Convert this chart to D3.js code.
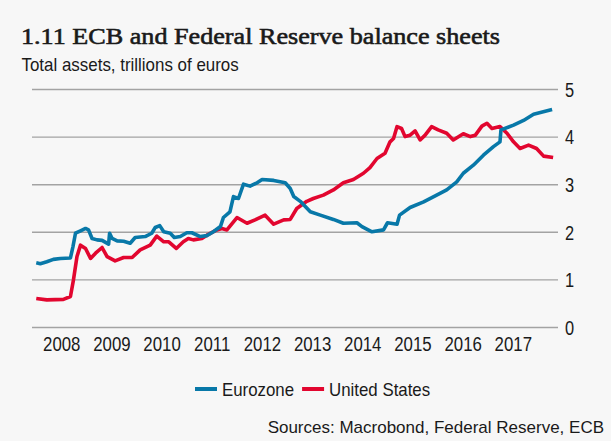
<!DOCTYPE html>
<html>
<head>
<meta charset="utf-8">
<script src="https://cdn.jsdelivr.net/npm/d3@7"></script>
<style>
  html, body { margin: 0; padding: 0; background: #f7f7f7; }
  svg { display: block; }
</style>
</head>
<body>
<div id="chart"></div>
<script>
// Chart data (decimal years, trillions of euros)
const euroYears = [2008.00, 2008.08, 2008.21, 2008.34, 2008.48, 2008.68, 2008.73, 2008.78, 2008.88, 2008.98,
  2009.04, 2009.11, 2009.21, 2009.31, 2009.44, 2009.46, 2009.51, 2009.61, 2009.74, 2009.87, 2009.97,
  2010.17, 2010.30, 2010.37, 2010.46, 2010.54, 2010.67, 2010.75, 2010.87, 2011.00, 2011.10, 2011.27,
  2011.40, 2011.53, 2011.67, 2011.73, 2011.86, 2011.93, 2012.03, 2012.13, 2012.26, 2012.40, 2012.50,
  2012.73, 2012.96, 2013.06, 2013.13, 2013.26, 2013.46, 2013.66, 2013.92, 2014.12, 2014.39, 2014.49,
  2014.69, 2014.92, 2015.00, 2015.19, 2015.24, 2015.45, 2015.72, 2015.98, 2016.18, 2016.38, 2016.51,
  2016.71, 2016.91, 2017.11, 2017.24, 2017.26, 2017.51, 2017.71, 2017.91, 2018.28];
const euroValues = [1.35, 1.33, 1.37, 1.42, 1.44, 1.45, 1.69, 1.97, 2.02, 2.07,
  2.04, 1.86, 1.83, 1.82, 1.74, 1.97, 1.86, 1.81, 1.80, 1.76, 1.88,
  1.90, 1.97, 2.09, 2.13, 2.00, 1.97, 1.88, 1.90, 1.98, 1.98, 1.90,
  1.92, 2.00, 2.11, 2.30, 2.42, 2.74, 2.70, 3.00, 2.96, 3.03, 3.10,
  3.08, 3.03, 2.91, 2.74, 2.64, 2.42, 2.35, 2.26, 2.18, 2.19, 2.11,
  2.00, 2.04, 2.19, 2.16, 2.35, 2.51, 2.63, 2.77, 2.88, 3.05, 3.23,
  3.40, 3.61, 3.79, 3.89, 4.14, 4.24, 4.34, 4.47, 4.57];

const usYears = [2008.00, 2008.21, 2008.54, 2008.68, 2008.74, 2008.81, 2008.88, 2008.98, 2009.08, 2009.18,
  2009.31, 2009.41, 2009.57, 2009.74, 2009.91, 2010.07, 2010.27, 2010.40, 2010.54, 2010.64, 2010.79,
  2010.93, 2011.03, 2011.13, 2011.30, 2011.40, 2011.60, 2011.70, 2011.80, 2012.00, 2012.20, 2012.36,
  2012.56, 2012.73, 2012.93, 2013.06, 2013.19, 2013.39, 2013.52, 2013.72, 2013.92, 2014.12, 2014.32,
  2014.52, 2014.65, 2014.79, 2014.95, 2015.05, 2015.12, 2015.19, 2015.28, 2015.35, 2015.45, 2015.55,
  2015.65, 2015.75, 2015.88, 2016.01, 2016.18, 2016.31, 2016.51, 2016.65, 2016.75, 2016.88, 2016.98,
  2017.08, 2017.24, 2017.38, 2017.51, 2017.64, 2017.81, 2017.97, 2018.11, 2018.30];
const usValues = [0.60, 0.57, 0.58, 0.64, 0.99, 1.48, 1.72, 1.65, 1.44, 1.55,
  1.67, 1.48, 1.39, 1.46, 1.46, 1.62, 1.72, 1.91, 1.79, 1.79, 1.65,
  1.79, 1.86, 1.83, 1.86, 1.93, 2.04, 2.07, 2.04, 2.30, 2.18, 2.25,
  2.35, 2.16, 2.25, 2.26, 2.49, 2.64, 2.70, 2.77, 2.88, 3.03, 3.10,
  3.23, 3.35, 3.54, 3.65, 3.89, 3.96, 4.21, 4.17, 4.00, 4.03, 4.12,
  3.93, 4.03, 4.21, 4.14, 4.07, 3.93, 4.06, 4.00, 4.03, 4.22, 4.28,
  4.17, 4.21, 4.07, 3.89, 3.75, 3.82, 3.75, 3.59, 3.56];

const yearLabels = [2008, 2009, 2010, 2011, 2012, 2013, 2014, 2015, 2016, 2017];
const yTicks = [0, 1, 2, 3, 4, 5];
const seriesNames = ["Eurozone", "United States"];
const seriesColors = ["#0878a8", "#e2062f"];

const width = 611;
const height = 441;

// decimal year -> Date
function toDate(y) {
    const yr = Math.floor(y);
    const start = new Date(yr, 0, 1), end = new Date(yr + 1, 0, 1);
    return new Date(+start + (y - yr) * (end - start));
}

// squeeze text horizontally, the reference uses a narrow sans
function condense(sel, k) {
    sel.each(function() {
        const len = this.getComputedTextLength();
        d3.select(this).attr("textLength", len * k).attr("lengthAdjust", "spacingAndGlyphs");
    });
}

const svg = d3.select("#chart")
    .append("svg")
    .attr("width", width)
    .attr("height", height)
    .style("background", "#f7f7f7");

const x = d3.scaleTime()
    .domain([new Date(2007, 11, 1), new Date(2018, 4, 26)])
    .range([32, 558]);

const y = d3.scaleLinear()
    .domain([0, 5])
    .range([327, 89]);

// Title + subtitle
svg.append("text")
    .attr("x", 21)
    .attr("y", 43.5)
    .attr("font-family", "'Liberation Serif', 'DejaVu Serif', serif")
    .attr("font-size", 24)
    .attr("fill", "#1a1a1a")
    .attr("stroke", "#1a1a1a")
    .attr("stroke-width", 0.6)
    .attr("textLength", 479)
    .attr("lengthAdjust", "spacingAndGlyphs")
    .text("1.11 ECB and Federal Reserve balance sheets");

svg.append("text")
    .attr("x", 21.5)
    .attr("y", 71)
    .attr("font-family", "'Liberation Sans', Arial, sans-serif")
    .attr("font-size", 18.6)
    .attr("fill", "#1a1a1a")
    .text("Total assets, trillions of euros")
    .call(condense, 0.91);

// Gridlines + y labels
const yAxis = d3.axisRight(y)
    .tickValues(yTicks)
    .tickSize(526)
    .tickFormat(d3.format("d"));

const gy = svg.append("g")
    .attr("transform", "translate(32,0)")
    .call(yAxis);
gy.select(".domain").remove();
gy.selectAll(".tick line")
    .attr("stroke", "#a3a3a3")
    .attr("stroke-width", 1.4);
gy.selectAll(".tick text")
    .attr("x", 533)
    .attr("dy", "0.36em")
    .attr("font-family", "'Liberation Sans', Arial, sans-serif")
    .attr("font-size", 20.5)
    .attr("fill", "#1a1a1a")
    .call(condense, 0.8);

// Year labels, centred mid-year, no tick marks
const xAxis = d3.axisBottom(x)
    .tickValues(yearLabels.map(d => new Date(d, 6, 1)))
    .tickSize(0)
    .tickFormat(d3.timeFormat("%Y"));

const gx = svg.append("g")
    .attr("transform", "translate(0,327)")
    .call(xAxis);
gx.select(".domain").remove();
gx.selectAll(".tick text")
    .attr("y", 9)
    .attr("dy", "0.71em")
    .attr("font-family", "'Liberation Sans', Arial, sans-serif")
    .attr("font-size", 20.5)
    .attr("fill", "#1a1a1a")
    .call(condense, 0.82);

// Lines
const line = d3.line()
    .x(d => x(d.date))
    .y(d => y(d.value));

const usData = usYears.map((yr, i) => ({ date: toDate(yr), value: usValues[i] }));
const euroData = euroYears.map((yr, i) => ({ date: toDate(yr), value: euroValues[i] }));

svg.append("path")
    .datum(usData)
    .attr("d", line)
    .attr("fill", "none")
    .attr("stroke", seriesColors[1])
    .attr("stroke-width", 3.6)
    .attr("stroke-linejoin", "round");

svg.append("path")
    .datum(euroData)
    .attr("d", line)
    .attr("fill", "none")
    .attr("stroke", seriesColors[0])
    .attr("stroke-width", 3.6)
    .attr("stroke-linejoin", "round");

// Legend
const legend = svg.append("g").attr("transform", "translate(195,389)");
let lx = 0;
seriesNames.forEach((name, i) => {
    legend.append("line")
        .attr("x1", lx).attr("x2", lx + 22)
        .attr("y1", 0).attr("y2", 0)
        .attr("stroke", seriesColors[i])
        .attr("stroke-width", 4);
    const t = legend.append("text")
        .attr("x", lx + 27)
        .attr("y", 7)
        .attr("font-family", "'Liberation Sans', Arial, sans-serif")
        .attr("font-size", 18.5)
        .attr("fill", "#1a1a1a")
        .text(name)
        .call(condense, 0.91);
    lx += 27 + (+t.attr("textLength")) + 8;
});

// Source
svg.append("text")
    .attr("x", 604)
    .attr("y", 433)
    .attr("text-anchor", "end")
    .attr("font-family", "'Liberation Sans', Arial, sans-serif")
    .attr("font-size", 17)
    .attr("fill", "#1a1a1a")
    .text("Sources: Macrobond, Federal Reserve, ECB");
</script>
</body>
</html>
